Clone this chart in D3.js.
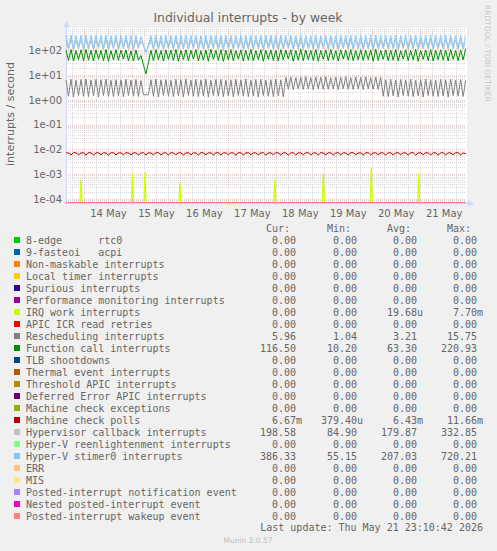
<!DOCTYPE html>
<html><head><meta charset="utf-8">
<script src="https://cdn.jsdelivr.net/npm/d3@7"></script>
<style>
html,body{margin:0;padding:0;background:#F0F0F0;}
svg{display:block;}
text{font-family:"DejaVu Sans",sans-serif;fill:#666;}
.mono{font-family:"DejaVu Sans Mono",monospace;font-size:10px;white-space:pre;}
</style></head><body>
<svg id="chart" width="497" height="551"></svg>
<script>
// ---------- data ----------
const chartTitle = "Individual interrupts - by week";
const yAxisLabel = "interrupts / second";
const startTime = "2026-05-13T15:00:00";
const endTime = "2026-05-21T23:10:42";
const stepMinutes = 75;
const yTickValues = [1e2, 1e1, 1e0, 1e-1, 1e-2, 1e-3, 1e-4];
const yTickLabels = ["1e+02", "1e+01", "1e+00", "1e-01", "1e-02", "1e-03", "1e-04"];
const xTickDates = ["2026-05-14T12:00:00","2026-05-15T12:00:00","2026-05-16T12:00:00","2026-05-17T12:00:00","2026-05-18T12:00:00","2026-05-19T12:00:00","2026-05-20T12:00:00","2026-05-21T12:00:00"];
const xTickLabels = ["14 May","15 May","16 May","17 May","18 May","19 May","20 May","21 May"];

const legendLabels = ["8-edge      rtc0","9-fasteoi   acpi","Non-maskable interrupts","Local timer interrupts","Spurious interrupts","Performance monitoring interrupts","IRQ work interrupts","APIC ICR read retries","Rescheduling interrupts","Function call interrupts","TLB shootdowns","Thermal event interrupts","Threshold APIC interrupts","Deferred Error APIC interrupts","Machine check exceptions","Machine check polls","Hypervisor callback interrupts","Hyper-V reenlightenment interrupts","Hyper-V stimer0 interrupts","ERR","MIS","Posted-interrupt notification event","Nested posted-interrupt event","Posted-interrupt wakeup event"];
const legendColors = ["#00CC00","#0066B3","#FF8000","#FFCC00","#330099","#990099","#CCFF00","#FF0000","#808080","#008F00","#00487D","#B35A00","#B38F00","#6B006B","#8FB300","#B30000","#BEBEBE","#80FF80","#80C9FF","#FFC080","#FFE680","#AA80FF","#EE00CC","#FF8080"];
const curValues = ["0.00","0.00","0.00","0.00","0.00","0.00","0.00","0.00","5.96","116.50","0.00","0.00","0.00","0.00","0.00","6.67m","198.58","0.00","386.33","0.00","0.00","0.00","0.00","0.00"];
const minValues = ["0.00","0.00","0.00","0.00","0.00","0.00","0.00","0.00","1.04","10.20","0.00","0.00","0.00","0.00","0.00","379.40u","84.90","0.00","55.15","0.00","0.00","0.00","0.00","0.00"];
const avgValues = ["0.00","0.00","0.00","0.00","0.00","0.00","19.68u","0.00","3.21","63.30","0.00","0.00","0.00","0.00","0.00","6.43m","179.87","0.00","207.03","0.00","0.00","0.00","0.00","0.00"];
const maxValues = ["0.00","0.00","0.00","0.00","0.00","0.00","7.70m","0.00","15.75","220.93","0.00","0.00","0.00","0.00","0.00","11.66m","332.85","0.00","720.21","0.00","0.00","0.00","0.00","0.00"];
const lastUpdate = "Last update: Thu May 21 23:10:42 2026";

// Hyper-V stimer0 interrupts
const hvsValues = [395,128,410,122,388,135,402,126,415,131,
 392,124,405,138,398,127,412,121,390,133,
 408,125,396,136,403,129,385,123,400,140,
 360,170,82,165,395,126,407,132,391,124,
 404,137,399,128,411,122,393,134,406,127,
 397,139,409,125,389,131,402,123,414,136,
 394,129,405,121,398,133,410,126,392,138,
 401,124,396,130,412,127,390,135,407,122,
 399,137,403,128,394,125,409,132,397,139,
 406,123,391,131,413,126,400,134,395,129,
 408,121,393,136,402,127,411,133,389,124,
 404,138,398,130,410,125,392,132,407,128,
 396,135,401,122,415,129,394,137,403,126,
 399,131,408,124,390,139,405,127,397,133,
 412,121,395,136,400,128,409,125,393,134,
 406,130,398,123,411,137,391,127,404,132,
 386];
// Hypervisor callback interrupts
const hypValues = [270,105,285,98,262,112,278,101,290,108,
 266,99,281,115,273,103,288,97,264,110,
 284,102,271,113,279,106,258,100,276,118,
 240,150,85,140,270,104,283,109,265,100,
 280,114,274,105,287,98,268,111,282,103,
 272,116,285,101,263,108,277,99,292,113,
 269,106,281,97,273,110,286,102,266,115,
 276,100,271,107,289,104,264,112,283,98,
 274,114,279,105,269,101,285,109,272,116,
 282,99,266,108,290,102,275,111,270,106,
 284,97,268,113,277,104,288,110,263,100,
 280,115,273,107,286,102,267,109,283,105,
 271,112,276,98,293,106,269,114,278,103,
 274,108,284,100,265,116,281,104,272,110,
 289,97,270,113,275,105,285,102,268,111,
 282,107,273,99,287,114,266,104,279,109,
 199];
// Function call interrupts
const calValues = [102,39,108,37,98,42,105,38,110,40,
 100,37,106,43,99,38,109,36,97,41,
 107,39,101,44,104,38,95,37,103,40,
 62,26,11,32,100,38,107,41,98,37,
 105,43,101,39,109,36,99,42,106,38,
 102,44,108,37,97,40,104,36,111,43,
 100,39,106,36,101,41,108,38,98,44,
 104,37,100,40,110,38,97,42,106,36,
 101,43,105,39,99,37,107,41,102,44,
 106,36,98,40,111,38,103,42,100,39,
 108,36,99,43,104,38,109,41,97,37,
 105,44,101,40,108,38,98,41,106,39,
 100,42,104,36,112,39,99,43,105,38,
 102,40,107,37,97,44,106,38,101,41,
 110,36,100,43,103,39,108,37,99,42,
 106,40,101,37,109,43,98,38,104,41,
 117];
// Rescheduling interrupts
const resValues = [6.4,1.4,6.8,1.3,6.2,1.5,6.6,1.4,7.0,1.35,
 6.3,1.45,6.7,1.3,6.5,1.5,6.9,1.4,6.2,1.35,
 6.6,1.45,6.4,1.3,6.8,1.5,6.3,1.4,6.7,1.35,
 6.0,1.6,1.6,1.6,6.5,1.4,6.9,1.3,6.4,1.5,
 6.6,1.4,6.2,1.35,6.8,1.45,6.5,1.3,7.0,1.5,
 6.3,1.4,6.7,1.35,6.4,1.45,6.9,1.3,6.2,1.5,
 6.6,1.4,6.8,1.35,6.3,1.45,6.5,1.3,6.7,1.5,
 6.4,1.4,7.0,1.35,6.2,1.45,6.6,1.3,6.8,1.5,
 6.3,1.4,6.5,1.35,6.9,1.45,6.4,1.3,
 8.0,2.7,8.4,2.6,7.8,2.8,8.2,2.65,8.6,2.75,
 7.9,2.6,8.3,2.8,8.1,2.7,8.5,2.65,7.7,2.75,
 8.2,2.6,8.0,2.8,8.6,2.7,7.9,2.65,8.3,2.75,
 8.1,2.6,8.4,2.8,7.8,2.7,8.2,2.65,8.0,
 1.4,6.5,1.35,6.8,1.45,6.3,1.3,6.7,1.5,6.4,
 1.4,6.9,1.35,6.2,1.45,6.6,1.3,6.8,1.5,6.5,
 1.4,6.3,1.35,6.7,1.45,6.4,1.3,7.0,1.5,6.2,
 1.4,6.6,1.35,5.96];
// Machine check polls (in milli-interrupts / second)
const mcpMilli = [7.3,7.2,6.0,7.4,7.3,6.1,7.2,7.3,5.9,7.4,
 7.3,6.0,7.2,7.4,6.1,7.3,7.2,5.9,7.3,7.4,
 6.0,7.2,7.3,6.1,7.4,7.2,6.0,7.3,7.3,5.9,
 7.2,7.4,6.0,7.3,7.2,6.1,7.3,7.4,6.0,7.2,
 7.3,5.9,7.4,7.2,6.1,7.3,7.3,6.0,7.2,7.4,
 6.0,7.3,7.2,5.9,7.4,7.3,6.1,7.2,7.3,6.0,
 7.3,7.4,6.0,7.2,7.3,6.1,7.3,7.2,5.9,7.4,
 7.3,6.0,7.2,7.4,6.1,7.3,7.2,6.0,7.3,7.4,
 5.9,7.2,7.3,6.1,7.4,7.2,6.0,7.3,7.3,5.9,
 7.2,7.4,6.0,7.3,7.2,6.1,7.3,7.4,6.0,7.2,
 7.3,5.9,7.4,7.2,6.1,7.3,7.3,6.0,7.2,7.4,
 6.0,7.3,7.2,5.9,7.4,7.3,6.1,7.2,7.3,6.0,
 7.3,7.4,6.0,7.2,7.3,6.1,7.3,7.2,5.9,7.4,
 7.3,6.0,7.2,7.4,6.1,7.3,7.2,6.0,7.3,7.4,
 5.9,7.2,7.3,6.1,7.4,7.2,6.0,7.3,7.3,5.9,
 7.2,7.4,6.0,7.3,7.2,6.1,7.3,7.4,6.0,7.2,
 6.67];
// IRQ work interrupts: isolated spikes
const iwiTimes = ["2026-05-13T22:30:00","2026-05-15T00:15:00","2026-05-15T06:30:00","2026-05-16T00:00:00","2026-05-17T23:30:00","2026-05-18T23:45:00","2026-05-19T23:45:00","2026-05-20T23:30:00"];
const iwiPeaks = [6.3e-4,1.1e-3,1.2e-3,4.6e-4,6.3e-4,1.05e-3,1.9e-3,1.1e-3];

// ---------- layout ----------
const svg = d3.select("#chart");
const L = 66, R = 466, T = 28, B = 203;
const t0 = new Date(startTime), t1 = new Date(endTime);
const x = d3.scaleTime().domain([t0, t1]).range([L, R]);
const y = d3.scaleLog().domain([6.9e-5, 794]).range([B, T]);
const yv = v => v > 0 ? y(v) : B;
const timeAt = i => new Date(t0.getTime() + i * stepMinutes * 60000);

svg.append("rect").attr("x", L).attr("y", T).attr("width", R - L + 1).attr("height", B - T).attr("fill", "#fff");

// grid
const grid = svg.append("g");
const minorC = "#DADADA", majorC = "rgba(235,130,130,0.42)";
for (let e = -5; e <= 2; e++) {
  for (let k = 2; k <= 9; k++) {
    const v = k * Math.pow(10, e);
    if (v < y.domain()[0] || v > y.domain()[1]) continue;
    grid.append("line").attr("x1", L).attr("x2", R).attr("y1", Math.round(y(v)) + 0.5).attr("y2", Math.round(y(v)) + 0.5)
      .attr("stroke", minorC).attr("stroke-dasharray", "1,1");
  }
}
d3.timeHour.every(6).range(t0, t1).forEach(d => {
  if (d.getHours() === 0) return;
  grid.append("line").attr("x1", Math.round(x(d)) + 0.5).attr("x2", Math.round(x(d)) + 0.5).attr("y1", T).attr("y2", B + 2)
    .attr("stroke", minorC).attr("stroke-dasharray", "1,1");
});
yTickValues.forEach(v => {
  grid.append("line").attr("x1", L).attr("x2", R).attr("y1", Math.round(y(v)) + 0.5).attr("y2", Math.round(y(v)) + 0.5)
    .attr("stroke", majorC).attr("stroke-dasharray", "1,1");
});
d3.timeDay.range(t0, t1).forEach(d => {
  grid.append("line").attr("x1", Math.round(x(d)) + 0.5).attr("x2", Math.round(x(d)) + 0.5).attr("y1", T).attr("y2", B + 2)
    .attr("stroke", majorC).attr("stroke-dasharray", "1,1");
});

// axes lines + arrows
const axisC = "#CFD6F8";
svg.append("line").attr("x1", L + 0.5).attr("x2", L + 0.5).attr("y1", B + 2).attr("y2", T - 4).attr("stroke", axisC);
svg.append("line").attr("x1", L - 2).attr("x2", R + 4).attr("y1", B + 0.5).attr("y2", B + 0.5).attr("stroke", axisC);
svg.append("path").attr("d", `M${L - 2.5},${T - 1}L${L + 3.5},${T - 1}L${L + 0.5},${T - 7}Z`).attr("fill", axisC);
svg.append("path").attr("d", `M${R + 2},${B - 2.5}L${R + 2},${B + 3.5}L${R + 8},${B + 0.5}Z`).attr("fill", axisC);

// series
const line = d3.line().x(d => x(d.t)).y(d => yv(d.v));
const seriesData = {
  8: resValues,
  9: calValues,
  15: mcpMilli.map(v => v / 1000),
  16: hypValues,
  18: hvsValues
};
const plot = svg.append("g");
legendLabels.forEach((lab, idx) => {
  const col = legendColors[idx];
  const vals = seriesData[idx];
  if (vals) {
    plot.append("path").datum(vals.map((v, i) => ({ t: timeAt(i), v })))
      .attr("d", line).attr("fill", "none").attr("stroke", col).attr("stroke-width", 1);
  } else {
    plot.append("path").datum([{ t: t0, v: 0 }, { t: t1, v: 0 }])
      .attr("d", d3.line().x(d => x(d.t)).y(d => yv(d.v) - 0.5)).attr("fill", "none").attr("stroke", col).attr("stroke-width", 1);
    if (idx === 6) {
      iwiTimes.forEach((ts, k) => {
        const tc = new Date(ts);
        const pts = [{ t: new Date(tc.getTime() - 1800000), v: 0 }, { t: tc, v: iwiPeaks[k] }, { t: new Date(tc.getTime() + 1800000), v: 0 }];
        plot.append("path").datum(pts).attr("d", line).attr("fill", "none").attr("stroke", col).attr("stroke-width", 1.3);
      });
    }
  }
});

// y axis
const yAxis = svg.append("g").attr("transform", `translate(${L},0)`)
  .call(d3.axisLeft(y).tickValues(yTickValues).tickFormat((d, i) => yTickLabels[i]).tickSize(0).tickPadding(4));
yAxis.select(".domain").remove();
yAxis.selectAll("text").attr("font-family", "DejaVu Sans").attr("font-size", 10).attr("fill", "#666").attr("x", -4);

// x axis
const xAxis = svg.append("g").attr("transform", `translate(0,${B})`)
  .call(d3.axisBottom(x).tickValues(xTickDates.map(s => new Date(s))).tickFormat((d, i) => xTickLabels[i]).tickSize(0));
xAxis.select(".domain").remove();
xAxis.selectAll("text").attr("font-family", "DejaVu Sans").attr("font-size", 10).attr("fill", "#666").attr("y", 14).attr("dy", 0);

// title & labels
svg.append("text").attr("x", 248).attr("y", 22).attr("text-anchor", "middle").attr("font-size", 12.4).text(chartTitle);
svg.append("text").attr("transform", "translate(14,114) rotate(-90)").attr("text-anchor", "middle").attr("font-size", 11).text(yAxisLabel);
svg.append("text").attr("transform", "translate(485,5) rotate(90)").attr("font-size", 7.5).style("fill", "#C8C8C8").text("RRDTOOL / TOBI OETIKER");

// legend
const colX = [296, 357, 417, 477];
["Cur:", "Min:", "Avg:", "Max:"].forEach((h, j) => {
  svg.append("text").attr("class", "mono").attr("x", colX[j] - 6).attr("y", 232).attr("text-anchor", "end").text(h);
});
const cols = [curValues, minValues, avgValues, maxValues];
legendLabels.forEach((lab, i) => {
  const yy = 244 + i * 12;
  svg.append("rect").attr("x", 14).attr("y", yy - 7).attr("width", 6).attr("height", 6).attr("fill", legendColors[i]);
  svg.append("text").attr("class", "mono").attr("x", 26).attr("y", yy).text(lab);
  cols.forEach((arr, j) => {
    const s = arr[i];
    const m = s.match(/^([0-9.]+)([a-zA-Z]?)$/);
    svg.append("text").attr("class", "mono").attr("x", colX[j]).attr("y", yy).attr("text-anchor", "end").text(m[1]);
    if (m[2]) svg.append("text").attr("class", "mono").attr("x", colX[j]).attr("y", yy).text(m[2]);
  });
});
svg.append("text").attr("class", "mono").attr("x", 483).attr("y", 531).attr("text-anchor", "end").text(lastUpdate);
svg.append("text").attr("x", 248).attr("y", 543).attr("text-anchor", "middle").attr("font-size", 7.5).style("fill", "#BDBDBD").text("Munin 2.0.57");
</script>
</body></html>
